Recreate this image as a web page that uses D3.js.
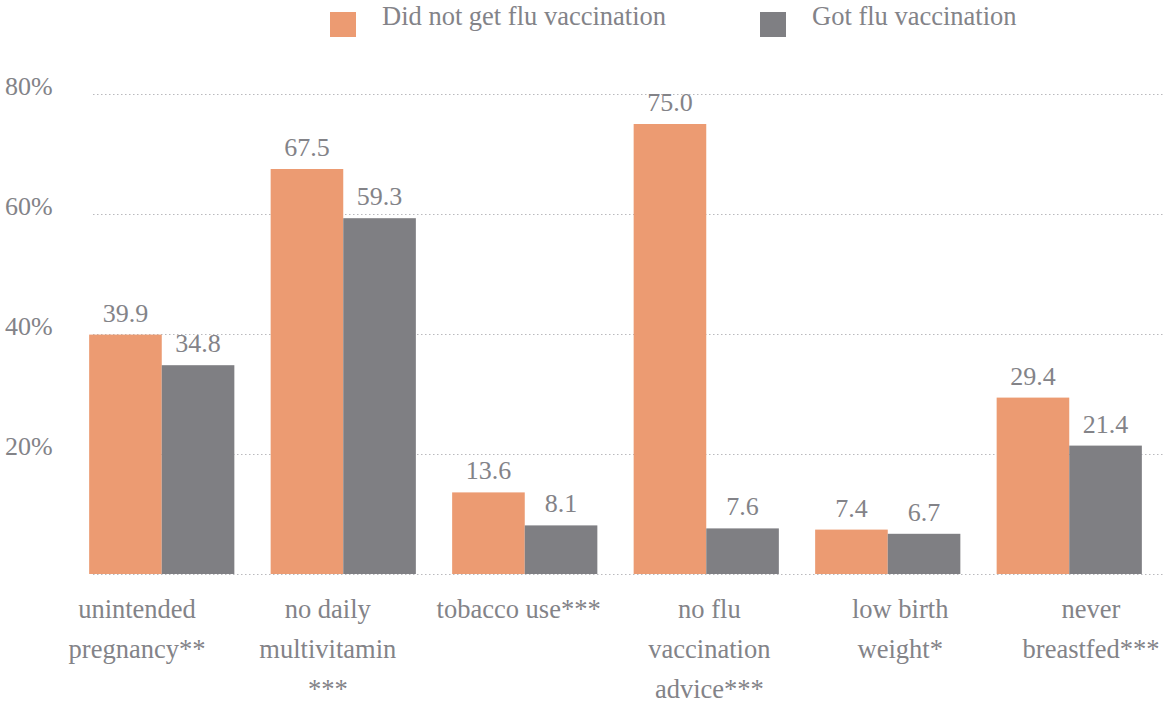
<!DOCTYPE html>
<html><head><meta charset="utf-8">
<script src="https://cdn.jsdelivr.net/npm/d3@7"></script>
<style>body{margin:0;background:#fff} svg text{font-family:"Liberation Serif","Times New Roman",Tinos,"DejaVu Serif",serif;}</style>
</head><body>
<svg id="c" width="1170" height="706"></svg>
<script>
const categories = [
  ["unintended", "pregnancy**"],
  ["no daily", "multivitamin", "***"],
  ["tobacco use***"],
  ["no flu", "vaccination", "advice***"],
  ["low birth", "weight*"],
  ["never", "breastfed***"]
];
const seriesNames = ["Did not get flu vaccination", "Got flu vaccination"];
const notVaccinated = [39.9, 67.5, 13.6, 75.0, 7.4, 29.4];
const vaccinated = [34.8, 59.3, 8.1, 7.6, 6.7, 21.4];
const yTicks = [20, 40, 60, 80];
const colors = ["#EC9B72", "#7F7F83"];
const textColor = "#838388";

const svg = d3.select("#c");
const y = d3.scaleLinear().domain([0, 80]).range([574, 94]);
const x0 = d3.scaleBand().domain(d3.range(categories.length)).range([71, 1160]).paddingInner(0.2).paddingOuter(0.1);
const x1 = d3.scaleBand().domain([0, 1]).range([0, x0.bandwidth()]);
const xLab = d3.scalePoint().domain(d3.range(categories.length)).range([137, 1091]);

// gridlines
svg.append("g").selectAll("line").data([0, ...yTicks]).join("line")
  .attr("x1", 93).attr("x2", 1165)
  .attr("y1", d => y(d) + 0.5).attr("y2", d => y(d) + 0.5)
  .attr("stroke", "#b9b9bd").attr("stroke-width", 1).attr("stroke-dasharray", "1.5,2.5");

// y labels
svg.append("g").selectAll("text").data(yTicks).join("text")
  .attr("x", 5).attr("y", d => y(d) + 1)
  .attr("font-size", 26).attr("fill", textColor)
  .text(d => d + "%");

const data = categories.map((c, i) => ({i, vals: [notVaccinated[i], vaccinated[i]]}));
const g = svg.append("g").selectAll("g").data(data).join("g")
  .attr("transform", d => `translate(${x0(d.i)},0)`);
g.selectAll("rect").data(d => d.vals).join("rect")
  .attr("x", (d, j) => x1(j)).attr("width", x1.bandwidth())
  .attr("y", d => y(d)).attr("height", d => y(0) - y(d))
  .attr("fill", (d, j) => colors[j]);
g.selectAll("text").data(d => d.vals).join("text")
  .attr("x", (d, j) => x1(j) + x1.bandwidth() / 2).attr("y", d => y(d) - 13)
  .attr("text-anchor", "middle")
  .attr("font-size", 26).attr("fill", textColor)
  .text(d => d.toFixed(1));

// x labels
const xl = svg.append("g").selectAll("text").data(categories).join("text")
  .attr("text-anchor", "middle")
  .attr("font-size", 26.5).attr("fill", textColor)
  .attr("transform", (d, i) => `translate(${xLab(i)},618)`);
xl.selectAll("tspan").data(d => d).join("tspan")
  .attr("x", 0).attr("y", (d, k) => k * 40).text(d => d);

// legend
const legX = [330, 760];
const lg = svg.append("g").selectAll("g").data(seriesNames).join("g")
  .attr("transform", (d, i) => `translate(${legX[i]},0)`);
lg.append("rect").attr("x", 0).attr("y", 12).attr("width", 26).attr("height", 25)
  .attr("fill", (d, i) => colors[i]);
lg.append("text").attr("x", 52).attr("y", 25)
  .attr("font-size", 26.5).attr("fill", textColor)
  .text(d => d);
</script>
</body></html>
